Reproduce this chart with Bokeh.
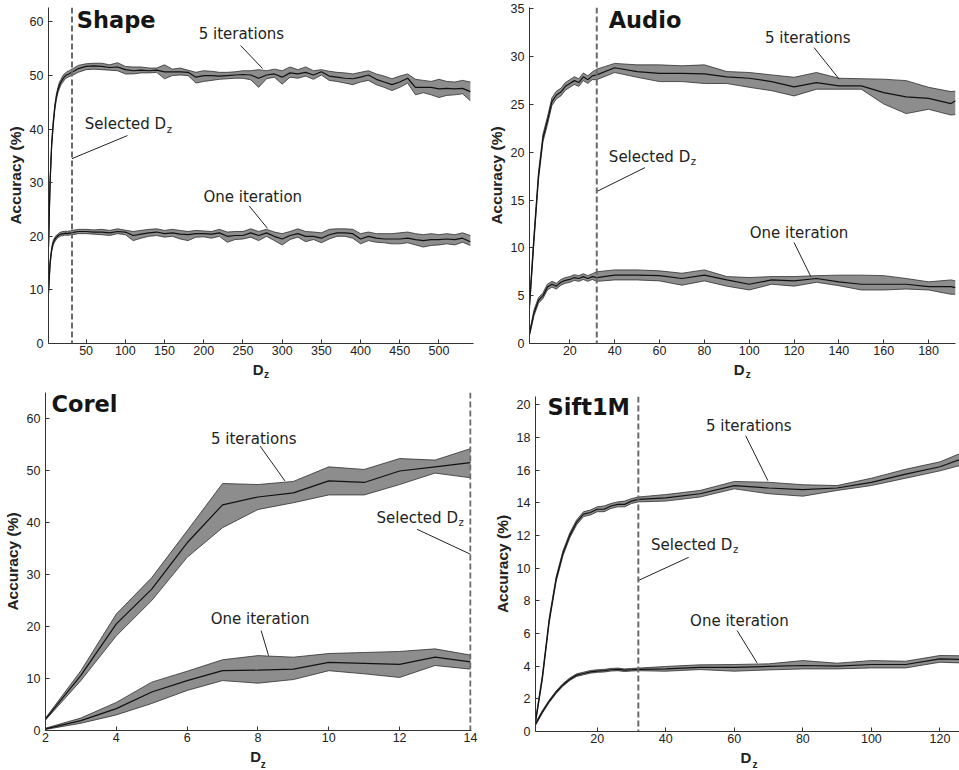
from bokeh.plotting import figure
from bokeh.layouts import column, row
from bokeh.models import Span, Label, FixedTicker, Range1d
from bokeh.core.properties import value
from bokeh.embed import file_html
from bokeh.resources import INLINE

# ---------------- data ----------------
# Shape
SHAPE_X = [2, 4, 6, 8, 10, 12, 14, 16, 18, 20, 22, 24, 26, 28, 30, 32,
           40, 50, 60, 70, 80, 90, 100, 110, 120, 130, 140, 150, 160, 170, 180, 190, 200,
           210, 220, 230, 240, 250, 260, 270, 280, 290, 300, 310, 320, 330, 340, 350,
           360, 370, 380, 390, 400, 410, 420, 430, 440, 450, 460, 470, 480, 490, 500,
           510, 520, 530, 540]
SHAPE_5_HI = [18.4, 30.5, 37.5, 41.5, 44.5, 46.5, 47.8, 48.8, 49.3, 49.9, 50.3, 50.5, 50.8, 50.8, 51.1, 51.2,
              51.9, 52.2, 52.3, 52.3, 52.0, 52.4, 51.7, 51.6, 51.6, 51.4, 51.4, 52.0, 51.2, 51.4, 51.0, 50.6, 50.9,
              50.8, 50.6, 50.6, 50.7, 50.9, 50.9, 51.1, 50.9, 51.2, 50.9, 51.6, 51.1, 51.6, 50.9, 51.1,
              50.8, 50.6, 50.5, 50.3, 50.6, 50.9, 50.3, 49.9, 49.4, 49.9, 50.3, 49.3, 49.1, 48.9, 49.3,
              48.9, 48.8, 49.1, 48.8]
SHAPE_5_MEAN = [18.0, 30.0, 37.0, 41.0, 44.0, 46.0, 47.3, 48.2, 48.8, 49.3, 49.7, 50.0, 50.2, 50.3, 50.5, 50.6,
                51.3, 51.7, 51.8, 51.7, 51.5, 51.6, 51.1, 50.9, 51.0, 50.9, 51.0, 50.7, 50.7, 50.7, 50.6, 49.7, 50.0,
                50.0, 49.9, 50.0, 50.1, 50.2, 50.1, 49.5, 50.1, 50.3, 49.7, 50.5, 50.3, 50.6, 50.1, 50.7,
                49.9, 49.7, 49.5, 49.4, 49.7, 50.1, 49.3, 48.8, 48.3, 48.8, 49.5, 47.8, 47.8, 47.8, 47.5,
                47.6, 47.5, 47.6, 47.0]
SHAPE_5_LO = [17.6, 29.5, 36.5, 40.5, 43.5, 45.5, 46.8, 47.6, 48.3, 48.7, 49.1, 49.5, 49.6, 49.8, 49.9, 50.0,
              50.6, 51.1, 51.2, 51.1, 51.0, 50.9, 50.3, 50.3, 50.5, 50.5, 50.6, 49.4, 50.0, 50.1, 50.0, 48.6, 48.9,
              49.1, 49.3, 49.4, 49.5, 49.5, 49.2, 47.8, 49.4, 49.7, 48.4, 49.7, 49.5, 49.9, 49.3, 50.1,
              49.1, 48.9, 48.6, 48.3, 48.8, 49.1, 48.3, 47.8, 47.2, 47.8, 48.6, 46.4, 46.8, 46.4, 45.9,
              46.3, 46.4, 46.6, 45.3]
SHAPE_1_HI = [9.8, 15.4, 17.9, 19.2, 19.8, 20.2, 20.4, 20.7, 20.8, 20.9, 20.9, 21.0, 20.9, 21.0, 21.0, 21.1,
              21.3, 21.3, 21.2, 21.3, 21.1, 21.4, 21.15, 20.9, 21.1, 21.3, 21.4, 21.1, 21.3, 21.1, 20.9, 21.1, 21.0,
              20.9, 21.3, 20.8, 20.9, 20.9, 21.4, 20.9, 21.3, 20.8, 20.5, 20.9, 21.4, 20.9, 20.8, 20.65,
              21.3, 21.4, 21.4, 21.3, 20.5, 20.8, 20.5, 20.5, 20.5, 20.65, 20.8, 20.5, 20.3, 20.5, 20.3,
              20.5, 20.3, 20.65, 20.15]
SHAPE_1_MEAN = [9.5, 15.0, 17.5, 18.8, 19.4, 19.8, 20.1, 20.3, 20.4, 20.5, 20.5, 20.6, 20.5, 20.6, 20.6, 20.7,
                20.9, 20.9, 20.8, 20.8, 20.65, 20.9, 20.8, 20.15, 20.4, 20.65, 20.8, 20.5, 20.65, 20.4, 20.3, 20.5, 20.5,
                20.4, 20.65, 20.0, 20.15, 20.15, 20.65, 20.15, 20.65, 20.0, 19.5, 20.15, 20.5, 20.0, 20.0, 19.65,
                20.3, 20.65, 20.65, 20.5, 19.5, 20.0, 19.65, 19.5, 19.5, 19.5, 19.65, 19.4, 19.2, 19.4, 19.4,
                19.5, 19.4, 19.65, 19.0]
SHAPE_1_LO = [9.2, 14.6, 17.1, 18.4, 19.0, 19.4, 19.8, 19.9, 20.1, 20.1, 20.2, 20.2, 20.2, 20.2, 20.3, 20.3,
              20.5, 20.5, 20.4, 20.3, 20.15, 20.5, 20.3, 19.2, 19.65, 20.0, 20.15, 19.85, 20.0, 19.5, 19.2, 19.85, 19.9,
              19.65, 20.0, 18.9, 19.4, 19.5, 19.85, 19.2, 20.0, 19.2, 18.4, 19.4, 19.85, 19.0, 19.4, 18.8,
              19.5, 20.0, 20.0, 19.65, 18.6, 19.2, 18.9, 18.8, 18.6, 18.6, 18.8, 18.4, 18.0, 18.3, 18.4,
              18.6, 18.4, 18.9, 18.3]

# Audio
AUDIO_X = [2, 4, 6, 8, 10, 12, 14, 16, 18, 20, 22, 24, 26, 28, 30, 32,
           40, 50, 60, 70, 80, 90, 100, 110, 120, 130, 140, 150, 160, 170, 180, 190, 192]
AUDIO_5_HI = [4.4, 11.4, 17.9, 21.9, 23.7, 25.7, 26.4, 26.7, 27.3, 27.6, 27.9, 27.7, 28.3, 28.0, 28.4, 28.7,
              29.3, 29.15, 29.15, 29.05, 29.15, 28.45, 28.35, 28.1, 27.85, 28.35, 27.75, 27.7, 27.65, 27.5, 26.8, 26.35, 26.4]
AUDIO_5_MEAN = [4.0, 11.0, 17.5, 21.5, 23.3, 25.3, 26.0, 26.3, 26.9, 27.2, 27.5, 27.3, 27.9, 27.6, 28.0, 28.1,
                28.85, 28.45, 28.25, 28.25, 28.2, 27.9, 27.75, 27.4, 26.85, 27.3, 26.95, 26.95, 26.25, 25.8, 25.65, 25.1, 25.4]
AUDIO_5_LO = [3.6, 10.6, 17.1, 21.1, 22.9, 24.9, 25.6, 25.9, 26.5, 26.8, 27.1, 26.9, 27.5, 27.2, 27.6, 27.6,
              28.35, 27.85, 27.4, 27.4, 27.2, 27.2, 26.8, 26.45, 25.9, 26.6, 26.6, 26.6, 25.05, 24.05, 24.5, 23.9, 23.95]
AUDIO_1_HI = [1.2, 3.5, 4.8, 5.3, 6.2, 6.5, 6.3, 6.7, 6.9, 7.0, 7.2, 7.1, 7.3, 7.1, 7.3, 7.5,
              7.7, 7.7, 7.6, 7.35, 7.7, 7.0, 6.9, 7.0, 7.0, 7.1, 7.15, 7.15, 7.1, 6.8, 6.45, 6.65, 6.55]
AUDIO_1_MEAN = [1.0, 3.2, 4.5, 5.0, 5.9, 6.2, 6.0, 6.4, 6.6, 6.7, 6.9, 6.8, 7.0, 6.8, 7.0, 6.9,
                7.15, 7.15, 7.1, 6.8, 7.15, 6.65, 6.2, 6.65, 6.55, 6.8, 6.45, 6.2, 6.2, 6.2, 5.95, 5.95, 5.85]
AUDIO_1_LO = [0.8, 2.9, 4.2, 4.7, 5.6, 5.9, 5.7, 6.1, 6.3, 6.4, 6.6, 6.5, 6.7, 6.5, 6.7, 6.5,
              6.65, 6.65, 6.55, 6.1, 6.55, 6.0, 5.6, 6.2, 6.0, 6.4, 6.05, 5.6, 5.6, 5.7, 5.6, 5.15, 5.15]

# Corel
COREL_X = [2, 3, 4, 5, 6, 7, 8, 9, 10, 11, 12, 13, 14]
COREL_5_HI = [2.4, 11.5, 22.4, 29.4, 38.4, 47.5, 47.3, 47.9, 50.7, 50.2, 52.3, 52.0, 54.2]
COREL_5_MEAN = [2.2, 10.6, 20.5, 27.2, 36.1, 43.4, 44.9, 45.7, 48.0, 47.7, 49.9, 50.7, 51.5]
COREL_5_LO = [2.0, 9.6, 18.2, 25.0, 33.3, 39.0, 42.5, 43.8, 45.3, 45.3, 47.3, 49.5, 48.6]
COREL_1_HI = [0.45, 2.4, 5.4, 9.3, 11.4, 13.6, 14.4, 14.1, 14.8, 15.0, 15.2, 15.7, 14.5]
COREL_1_MEAN = [0.3, 1.9, 4.2, 7.4, 9.6, 11.5, 11.6, 11.8, 13.1, 12.9, 12.7, 14.1, 13.2]
COREL_1_LO = [0.2, 1.4, 3.0, 5.2, 7.7, 9.6, 9.1, 9.8, 11.5, 10.9, 10.2, 12.5, 11.8]

# Sift1M
SIFT_X = [2, 4, 6, 8, 10, 12, 14, 16, 18, 20, 22, 24, 26, 28, 30, 32,
          40, 50, 60, 70, 80, 90, 100, 110, 120, 128]
SIFT_5_HI = [0.7, 3.45, 6.95, 9.45, 11.05, 12.15, 12.95, 13.45, 13.55, 13.75, 13.8, 13.95, 14.05, 14.1, 14.25, 14.35,
             14.5, 14.75, 15.3, 15.25, 15.1, 15.05, 15.5, 16.05, 16.5, 17.2]
SIFT_5_MEAN = [0.6, 3.3, 6.8, 9.3, 10.9, 12.0, 12.8, 13.3, 13.4, 13.6, 13.6, 13.8, 13.9, 13.9, 14.1, 14.2,
               14.3, 14.55, 15.05, 14.9, 14.8, 14.9, 15.25, 15.75, 16.2, 16.8]
SIFT_5_LO = [0.5, 3.15, 6.65, 9.15, 10.75, 11.85, 12.65, 13.15, 13.25, 13.45, 13.45, 13.65, 13.75, 13.75, 13.95, 14.05,
             14.1, 14.35, 14.85, 14.55, 14.4, 14.75, 15.05, 15.5, 15.95, 16.4]
SIFT_1_HI = [0.53, 1.28, 1.93, 2.48, 2.93, 3.28, 3.53, 3.63, 3.73, 3.78, 3.8, 3.86, 3.88, 3.83, 3.86, 3.88,
             3.98, 4.08, 4.1, 4.14, 4.34, 4.18, 4.34, 4.3, 4.65, 4.63]
SIFT_1_MEAN = [0.45, 1.2, 1.85, 2.4, 2.85, 3.2, 3.45, 3.55, 3.65, 3.7, 3.72, 3.78, 3.8, 3.75, 3.78, 3.8,
               3.83, 3.93, 3.93, 3.98, 4.04, 4.0, 4.1, 4.1, 4.44, 4.4]
SIFT_1_LO = [0.37, 1.12, 1.77, 2.32, 2.77, 3.12, 3.37, 3.47, 3.57, 3.62, 3.64, 3.7, 3.72, 3.67, 3.7, 3.72,
             3.69, 3.79, 3.69, 3.77, 3.83, 3.83, 3.89, 3.89, 4.24, 4.18]

# ticks / labels
SHAPE_XTICKS = [50, 100, 150, 200, 250, 300, 350, 400, 450, 500]
SHAPE_YTICKS = [0, 10, 20, 30, 40, 50, 60]
AUDIO_XTICKS = [20, 40, 60, 80, 100, 120, 140, 160, 180]
AUDIO_YTICKS = [0, 5, 10, 15, 20, 25, 30, 35]
COREL_XTICKS = [2, 4, 6, 8, 10, 12, 14]
COREL_YTICKS = [0, 10, 20, 30, 40, 50, 60]
SIFT_XTICKS = [20, 40, 60, 80, 100, 120]
SIFT_YTICKS = [0, 2, 4, 6, 8, 10, 12, 14, 16, 18, 20]
SELECTED_DZ = {"Shape": 32, "Audio": 32, "Corel": 14, "Sift1M": 32}

# ---------------- style ----------------
BAND = "#8d8d8d"
EDGE = "#2e2e2e"
MEAN = "#111111"
TXT = "#222222"
ANN_FONT = "DejaVu Sans"
AX_FONT = "Liberation Sans"


def make_panel(name, w, h, lab_h, borders, xr, yr, xticks, yticks, x, series, anno, dlab):
    bl, br, bt, bb = borders
    p = figure(width=w, height=h, x_range=Range1d(*xr), y_range=Range1d(*yr), output_backend="svg",
               toolbar_location=None, title=None, min_border_left=bl, min_border_right=br,
               min_border_top=bt, min_border_bottom=bb)
    p.outline_line_color = None
    p.xgrid.visible = False
    p.ygrid.visible = False
    for ax, tk in ((p.xaxis, xticks), (p.yaxis, yticks)):
        ax.ticker = FixedTicker(ticks=tk)
        ax.major_tick_in = 4
        ax.major_tick_out = 0
        ax.minor_tick_in = 0
        ax.minor_tick_out = 0
        ax.axis_line_color = "#333333"
        ax.major_tick_line_color = "#333333"
        ax.major_label_text_font = AX_FONT
        ax.major_label_text_font_size = "12.5px"
        ax.major_label_text_color = TXT
    p.xaxis.major_label_standoff = 2
    p.yaxis.major_label_standoff = 5
    p.yaxis.axis_label = "Accuracy (%)"
    p.yaxis.axis_label_text_font = AX_FONT
    p.yaxis.axis_label_text_font_style = "bold"
    p.yaxis.axis_label_text_font_size = "15.5px"
    p.yaxis.axis_label_text_color = TXT
    p.yaxis.axis_label_standoff = 3

    for lo, m, hi in series:
        p.varea(x=x, y1=lo, y2=hi, fill_color=BAND, fill_alpha=1.0)
        p.line(x, lo, line_color=EDGE, line_width=0.8)
        p.line(x, hi, line_color=EDGE, line_width=0.8)
        p.line(x, m, line_color=MEAN, line_width=1.2)

    p.add_layout(Span(location=SELECTED_DZ[name], dimension="height", line_color="#6a6a6a",
                      line_width=2, line_dash="6 3"))

    tx, ty = anno["title"]
    p.add_layout(Label(x=tx, y=ty, text=name, text_font=ANN_FONT, text_font_style="bold",
                       text_font_size="22.5px", text_color="#151515", text_baseline="middle",
                       text_align="left"))
    for key, txt in (("five", "5 iterations"), ("one", "One iteration")):
        (cx, cy), (x0, y0, x1, y1) = anno[key]
        p.add_layout(Label(x=cx, y=cy, text=txt, text_font=ANN_FONT, text_font_size="15px",
                           text_color=TXT, text_align="center", text_baseline="middle"))
        p.segment(x0=[x0], y0=[y0], x1=[x1], y1=[y1], line_color="#222222", line_width=1)
    (sx, sy), (x0, y0, x1, y1) = anno["sel"]
    p.add_layout(Label(x=sx, y=sy, text="Selected D", text_font=ANN_FONT, text_font_size="15px",
                       text_color=TXT, text_align="left", text_baseline="middle"))
    p.add_layout(Label(x=sx, y=sy, x_offset=82, y_offset=-5, text="z", text_font=ANN_FONT,
                       text_font_size="10px", text_color=TXT, text_align="left",
                       text_baseline="middle"))
    p.segment(x0=[x0], y0=[y0], x1=[x1], y1=[y1], line_color="#222222", line_width=1)

    # x-axis label "D_z" drawn in a thin strip below the panel, sharing its x scale
    dx, zx, dy, zy = dlab
    q = figure(width=w, height=lab_h, x_range=p.x_range, y_range=Range1d(0, lab_h),
               output_backend="svg", toolbar_location=None, title=None,
               x_axis_type=None, y_axis_type=None,
               min_border_left=bl, min_border_right=br, min_border_top=0, min_border_bottom=0)
    q.outline_line_color = None
    q.text(x=[dx], y=[dy], text=["D"], text_font=value(AX_FONT), text_font_style="bold",
           text_font_size="15px", text_color=TXT, text_baseline="middle", text_align="left")
    q.text(x=[zx], y=[zy], text=["z"], text_font=value(AX_FONT), text_font_style="bold",
           text_font_size="10px", text_color=TXT, text_baseline="middle", text_align="left")
    return column(p, q)


c1 = make_panel("Shape", 480, 360, 20, (48, 7, 7, 17), (2, 544), (0, 62.7),
                SHAPE_XTICKS, SHAPE_YTICKS, SHAPE_X,
                [(SHAPE_5_LO, SHAPE_5_MEAN, SHAPE_5_HI), (SHAPE_1_LO, SHAPE_1_MEAN, SHAPE_1_HI)],
                {"title": (38, 60.4),
                 "five": ((248, 57.8), (247, 55.6, 275, 51.3)),
                 "one": ((262.5, 27.4), (257.8, 25.7, 281.2, 21.5)),
                 "sel": ((48.3, 40.9), (102.7, 38.8, 32, 34.5))},
                (262.5, 276.8, 11.2, 5.8))

c2 = make_panel("Audio", 479, 360, 20, (49, 4, 7, 17), (2, 192), (0, 35.15),
                AUDIO_XTICKS, AUDIO_YTICKS, AUDIO_X,
                [(AUDIO_5_LO, AUDIO_5_MEAN, AUDIO_5_HI), (AUDIO_1_LO, AUDIO_1_MEAN, AUDIO_1_HI)],
                {"title": (37.3, 33.85),
                 "five": ((126.1, 32.0), (128.9, 30.96, 140.1, 27.66)),
                 "one": ((122.2, 11.6), (120.0, 10.56, 127.5, 6.98)),
                 "sel": ((37.4, 19.56), (53.5, 18.4, 32, 15.9))},
                (93.1, 98.5, 11.2, 5.8))

c3 = make_panel("Corel", 480, 367, 23, (41, 9, 12, 17), (2, 14.03), (0, 65),
                COREL_XTICKS, COREL_YTICKS, COREL_X,
                [(COREL_5_LO, COREL_5_MEAN, COREL_5_HI), (COREL_1_LO, COREL_1_MEAN, COREL_1_HI)],
                {"title": (2.17, 62.7),
                 "five": ((7.88, 56.0), (8.06, 54.7, 8.76, 48.0)),
                 "one": ((8.06, 21.4), (8.09, 19.2, 8.3, 14.4)),
                 "sel": ((11.35, 40.9), (12.49, 38.7, 14.0, 33.9))},
                (7.78, 8.08, 14.0, 6.5))

c4 = make_panel("Sift1M", 479, 368, 22, (55, 0, 16, 17), (2, 125.7), (0, 20.5),
                SIFT_XTICKS, SIFT_YTICKS, SIFT_X,
                [(SIFT_5_LO, SIFT_5_MEAN, SIFT_5_HI), (SIFT_1_LO, SIFT_1_MEAN, SIFT_1_HI)],
                {"title": (5.5, 19.85),
                 "five": ((64.2, 18.67), (63.3, 18.1, 69.8, 15.35)),
                 "one": ((61.5, 6.75), (60.8, 6.18, 66.7, 4.18)),
                 "sel": ((35.7, 11.42), (46.7, 10.66, 32, 9.24))},
                (61.8, 65.3, 13.0, 6.5))

layout = column(row(c1, c2), row(c3, c4))
open("out.html", "w").write(file_html(layout, INLINE))
